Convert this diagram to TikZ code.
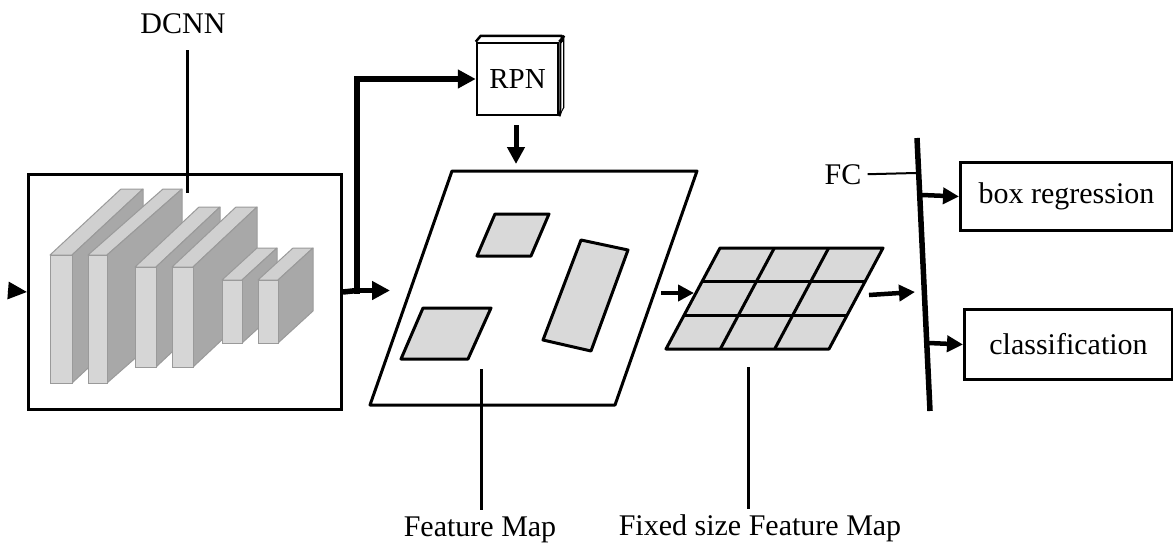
\documentclass[tikz,border=0pt]{standalone}
\usepackage{fontspec}
\setmainfont{Liberation Serif}
\usetikzlibrary{arrows.meta,calc}

\definecolor{slabfront}{HTML}{D6D6D6}
\definecolor{slabtop}{HTML}{D0D0D0}
\definecolor{slabside}{HTML}{A8A8A8}
\definecolor{slabedge}{HTML}{9A9A9A}
\definecolor{roi}{HTML}{D9D9D9}

% one convolution slab: front x1,y1,x2,y2 and depth offset dx,dy (drawn up-right)
\newcommand\drawslab[6]{%
  \filldraw[fill=slabtop, draw=slabedge, line width=1pt, line join=round]
    (#1,#2) -- (#3,#2) -- (#3+#5,#2-#6) -- (#1+#5,#2-#6) -- cycle;
  \filldraw[fill=slabside, draw=slabedge, line width=1pt, line join=round]
    (#3,#2) -- (#3+#5,#2-#6) -- (#3+#5,#4-#6) -- (#3,#4) -- cycle;
  \filldraw[fill=slabfront, draw=slabedge, line width=1pt]
    (#1,#2) rectangle (#3,#4);
}

\begin{document}
\begin{tikzpicture}[x=1pt,y=-1pt,
  lbl/.style={font=\fontsize{30}{36}\selectfont, inner sep=0pt, anchor=base},
  frame/.style={draw=black, line width=3pt},
  boxnode/.style={frame, inner sep=0pt, anchor=north west,
    font=\fontsize{30}{36}\selectfont},
  leader/.style={line width=3pt},
  flow/.style={line width=5.5pt, -{Triangle[length=18pt,width=18pt]}},
  flowthin/.style={line width=4.5pt, -{Triangle[length=16pt,width=16pt]}},
  roibox/.style={fill=roi, draw=black, line width=3pt, line join=round},
]
\useasboundingbox (0,0) rectangle (1173,544);

% ---------- DCNN backbone ----------
\node[boxnode, minimum width=313pt, minimum height=235pt] (dcnn) at (27,173) {};
\drawslab{50}{255}{72}{383}{71}{66}
\drawslab{88}{255}{107}{383}{75}{66}
\drawslab{135}{267}{156}{367}{64}{60}
\drawslab{172}{267}{193}{367}{64}{60}
\drawslab{222}{280}{242}{343}{35}{32}
\drawslab{258}{280}{278}{343}{35}{32}

\node[lbl] (dcnnlbl) at (183,33) {DCNN};
\coordinate (dcnnbot) at (187,193);
\draw[leader] ([xshift=4pt,yshift=-17pt]dcnnlbl.south) -- (dcnnbot);

% input arrow
\coordinate (inp) at (8,290.5);
\draw[line width=3pt, -{Triangle[length=19pt,width=17pt]}] (inp) -- (dcnn.west);

% ---------- RPN ----------
\node[boxnode, line width=2.5pt, minimum width=81pt, minimum height=72pt,
      anchor=center, font=\fontsize{29}{34}\selectfont] (rpn) at (517.5,79) {RPN};
\draw[line width=2.5pt, line join=round]
  (rpn.north west) -- ++(5,-6) -- ++(81,0) -- ++(0,72) -- (rpn.south east)
  (rpn.north east) -- ++(5,-6);
\fill (rpn.north east) -- ++(5,-6) -- ++(0,72) -- (rpn.south east) -- cycle;
\fill[white] ([xshift=2pt,yshift=-2pt]rpn.north east) -- ++(1.5,-2) -- ++(0,66) -- ([xshift=2pt,yshift=5pt]rpn.south east) -- cycle;

% ---------- backbone -> RPN / feature map ----------
\coordinate (j) at (357,290.5);
\coordinate (fmin) at (390,290.5);
\draw[line width=5.5pt] (dcnn.east) -- (j);
\draw[flow] (j) -- (fmin);
\draw[flow, line join=miter] ([yshift=-3pt]j) |- (rpn.west);

\coordinate (rpnout) at (516,125);
\coordinate (rpnin) at (516,164);
\draw[line width=5pt, -{Triangle[length=17pt,width=17pt]}] (rpnout) -- (rpnin);

% ---------- feature map with proposals ----------
\coordinate (fm1) at (452,171);
\coordinate (fm2) at (697,171);
\coordinate (fm3) at (615,405);
\coordinate (fm4) at (370,405);
\draw[line width=3pt, line join=round] (fm1) -- (fm2) -- (fm3) -- (fm4) -- cycle;

\draw[roibox] (495,214) -- (549,214) -- (531,256) -- (477,256) -- cycle;
\draw[roibox] (423,308) -- (491,308) -- (468,359) -- (401,359) -- cycle;
\draw[roibox] (581,240) -- (628,250) -- (591,351) -- (543,340) -- cycle;

\node[lbl] (fmlbl) at (480,536) {Feature Map};
\coordinate (fmleader) at (481,369);
\draw[leader] (fmleader) -- ([xshift=1pt,yshift=6pt]fmlbl.north);

% ---------- fixed size feature map (RoI pooling grid) ----------
\coordinate (fmout) at (661,293);
\coordinate (gin) at (694,293);
\draw[flowthin] (fmout) -- (gin);

\coordinate (g00) at (720,248);
\coordinate (g30) at (883,248);
\coordinate (g33) at (829,349);
\coordinate (g03) at (666,349);
\fill[roi] (g00) -- (g30) -- (g33) -- (g03) -- cycle;
\foreach \t in {0.3333,0.6667} {
  \draw[line width=3pt] ($(g00)!\t!(g03)$) -- ($(g30)!\t!(g33)$);
  \draw[line width=3pt] ($(g00)!\t!(g30)$) -- ($(g03)!\t!(g33)$);
}
\draw[line width=3pt, line join=round] (g00) -- (g30) -- (g33) -- (g03) -- cycle;

\node[lbl] (glbl) at (760,535) {Fixed size Feature Map};
\coordinate (gleader) at (748,367);
\draw[leader] (gleader) -- ([xshift=-12pt,yshift=5pt]glbl.north);

% ---------- fully connected layer ----------
\coordinate (fctop) at (917,138);
\coordinate (fcbot) at (930,411);
\draw[line width=5.5pt] (fctop) -- (fcbot);

\coordinate (gout) at (869,295);
\coordinate (fcin) at (915,292);
\draw[flowthin] (gout) -- (fcin);

\node[lbl] (fclbl) at (843,184) {FC};
\coordinate (fcjoin) at (916,173);
\draw[line width=2pt] ([xshift=6pt]fclbl.east) -- (fcjoin);

% ---------- heads ----------
\node[boxnode, minimum width=212pt, minimum height=68pt] (boxreg) at (959,161) {box regression};
\node[boxnode, minimum width=208pt, minimum height=70pt] (cls) at (963,308) {classification};

\coordinate (fca) at (922,195);
\coordinate (fcb) at (929,343);
\draw[flowthin] (fca) -- (boxreg.west);
\draw[flowthin] (fcb) -- (cls.west);
\end{tikzpicture}
\end{document}
